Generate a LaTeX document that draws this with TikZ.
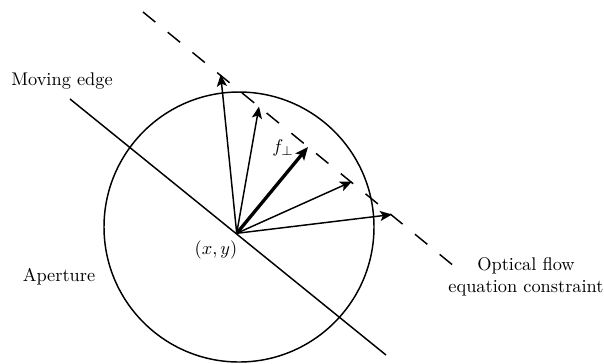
\documentclass[tikz,border=0pt]{standalone}
\usetikzlibrary{arrows.meta}
\begin{document}
\begin{tikzpicture}[x=0.545pt,y=-0.545pt,
  thinline/.style={line width=0.8pt},
  vec/.style={line width=0.8pt,-{Stealth[length=6.5pt,width=5.5pt,inset=1.5pt]}},
  vecthick/.style={line width=1.8pt,-{Stealth[length=7pt,width=6pt,inset=1.5pt]}},
  lbl/.style={inner sep=0pt,font=\normalsize}]
\useasboundingbox (0,0) rectangle (604,363);
% circle (aperture)
\coordinate (cc) at (239,227);
\draw[thinline] (cc) circle[radius=135];
% moving edge
\coordinate (me1) at (70,99);
\coordinate (me2) at (386,355);
\draw[thinline] (me1) -- (me2);
% dashed constraint line
\coordinate (d1) at (143,12);
\coordinate (d2) at (460,271);
\draw[thinline,dash pattern=on 8.7pt off 8.7pt] (d1) -- (d2);
% origin point
\coordinate (o) at (236.7,233.3);
\coordinate (t1) at (220.7,74.5);
\coordinate (t2) at (259,106.5);
\coordinate (t3) at (308,147);
\coordinate (t4) at (352,181.5);
\coordinate (t5) at (392,214.5);
\draw[vec] (o) -- (t1);
\draw[vec] (o) -- (t2);
\draw[vecthick] (o) -- (t3);
\draw[vec] (o) -- (t4);
\draw[vec] (o) -- (t5);
% labels
\node[lbl] (lme) at (62,81) {Moving edge};
\node[lbl] (lap) at (59,277) {Aperture};
\node[lbl] (lxy) at (216,250) {$(x,y)$};
\node[lbl] (lf) at (283,148) {$f_{\perp}$};
\node[lbl,align=center] (lof) at (526,276.5) {Optical flow\\equation constraint};
\end{tikzpicture}
\end{document}
